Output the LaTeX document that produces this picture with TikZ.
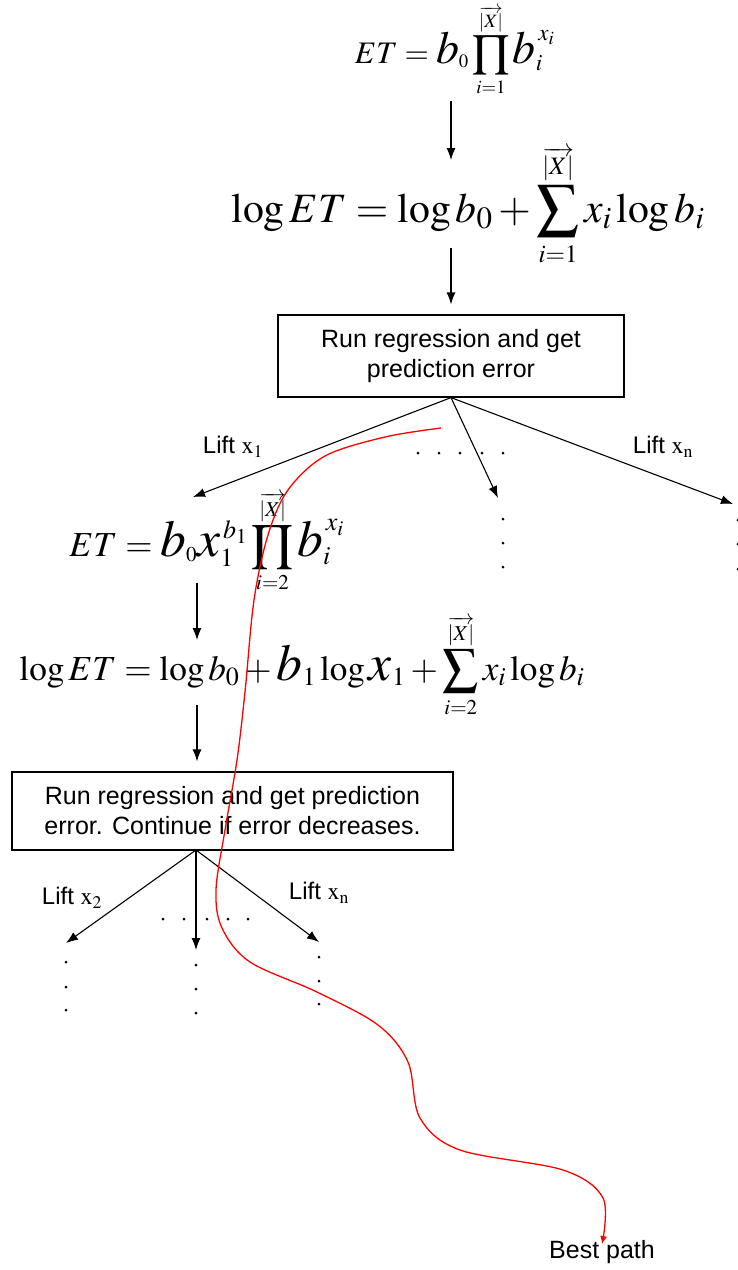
\documentclass[tikz,border=0pt]{standalone}
\usepackage{amsmath}
\usepackage{mathptmx}
\usepackage{fontspec}
\newfontfamily\sansf{Liberation Sans}
\usepackage{graphicx}
\usetikzlibrary{arrows.meta}
\newcommand\BL[1]{\mbox{\fontsize{44}{44}\selectfont$#1$}}
\newcommand\lm[1]{\scriptscriptstyle #1}
\newcommand\vX{\scriptscriptstyle\overrightarrow{|X|}\rule[-3pt]{0pt}{3pt}}
\begin{document}
\begin{tikzpicture}[x=1pt,y=-1pt,
  arr/.style={draw, line width=1.1pt, -{Latex[length=12pt,width=9pt]}},
  boxnode/.style={draw, line width=1.2pt, align=center, inner sep=0pt,
     font=\sansf\fontsize{25}{30}\selectfont},
  lbl/.style={font=\sansf\fontsize{24}{28}\selectfont, inner sep=0pt},
  eqn/.style={inner sep=0pt, anchor=base},
  dotm/.style={circle, fill, inner sep=0pt, minimum size=3pt},
  redpath/.style={draw=red, line width=1.3pt, -{Latex[length=8pt,width=7pt]}}]
\useasboundingbox (0,0) rectangle (738,1270);
\fill[white] (0,0) rectangle (738,1270);

% equations
\node[eqn] (eq1) at (455,63) {\resizebox{200pt}{!}{\fontsize{30}{30}\selectfont
  $ET = \BL{b}_{\lm{0}}\displaystyle\prod_{\lm{i=1}}^{\vX}\BL{b}_{i}^{\,x_{\lm{i}}}$}};
\node[eqn] (eq2) at (468,222) {\resizebox{473pt}{!}{\fontsize{38}{38}\selectfont
  $\log ET = \log b_0 + \displaystyle\sum_{\lm{i=1}}^{\vX} x_i \log b_i$}};
\node[eqn] (eq3) at (207,556) {\resizebox{275pt}{!}{\fontsize{30}{30}\selectfont
  $ET = \BL{b}_{\lm{0}}\BL{x}_{1}^{\,b_{\lm{1}}}\displaystyle\prod_{\lm{i=2}}^{\vX}\BL{b}_{i}^{\,x_{\lm{i}}}$}};
\node[eqn] (eq4) at (302,680) {\resizebox{565pt}{!}{\fontsize{30}{30}\selectfont
  $\log ET = \log b_0 + \BL{b}_{1}\log \BL{x}_{1} + \displaystyle\sum_{\lm{i=2}}^{\vX} x_i \log b_i$}};

% boxes
\node[boxnode, minimum width=346pt, minimum height=82pt] (box1) at (451,356)
  {Run regression and get\\prediction error};
\node[boxnode, minimum width=441pt, minimum height=78pt] (box2) at (232.5,811)
  {Run regression and get prediction\\error. Continue if error decreases.};

\coordinate (spine) at (197,700);
\coordinate (b2s) at (196,850);

% vertical arrows
\draw[arr, shorten <=38pt, shorten >=62pt] (eq1.base -| box1.north) -- (eq2.base -| box1.north);
\draw[arr, shorten <=26pt, shorten >=10pt] (eq2.base -| box1.north) -- (box1.north);
\draw[arr, shorten <=27pt, shorten >=40pt] (eq3.base -| spine) -- (eq4.base -| spine);
\draw[arr, shorten <=25pt, shorten >=10pt] (eq4.base -| spine) -- (box2.north -| spine);

% first branching
\coordinate (t1) at (193,497);
\coordinate (t2) at (498,498);
\coordinate (t3) at (733,504);
\draw[arr] (box1.south) -- (t1);
\draw[arr] (box1.south) -- (t2);
\draw[arr] (box1.south) -- (t3);
\node[lbl] (l1) at (233,447) {Lift $\mathrm{x}_1$};
\node[lbl] (l2) at (663,447) {Lift $\mathrm{x}_\mathrm{n}$};
\foreach \x/\n in {418/a,439/b,460/c,482/d,503/e} \node[dotm] (r\n) at (\x,453) {};
\foreach \y/\n in {519/a,543/b,567/c} \node[dotm] (v\n) at (503,\y) {};
\foreach \y/\n in {520/a,544/b,569/c} \node[dotm] (w\n) at (738,\y) {};

% second branching
\coordinate (s1) at (66,943);
\coordinate (s2) at (196,950);
\coordinate (s3) at (319,942);
\draw[arr] (b2s) -- (s1);
\draw[arr] (b2s) -- (s2);
\draw[arr] (b2s) -- (s3);
\node[lbl] (l3) at (72,898) {Lift $\mathrm{x}_2$};
\node[lbl] (l4) at (319,893) {Lift $\mathrm{x}_\mathrm{n}$};
\foreach \x/\n in {163/a,184/b,207/c,228/d,248/e} \node[dotm] (q\n) at (\x,919) {};
\foreach \y/\n in {962/a,987/b,1010/c} \node[dotm] (p\n) at (66,\y) {};
\foreach \y/\n in {965/a,989/b,1013/c} \node[dotm] (o\n) at (196,\y) {};
\foreach \y/\n in {957/a,981/b,1004/c} \node[dotm] (m\n) at (319,\y) {};

% best path
\node[lbl, font=\sansf\fontsize{25}{28}\selectfont, anchor=north] (best) at (602,1240) {Best path};
\coordinate (rstart) at (441,428);
\draw[redpath] plot[smooth, tension=0.55] coordinates {
  (rstart) (385,437) (325,456) (288,490) (268,535) (254,600) (245,692)
  (237,760) (225,830) (216,890) (222,928) (250,962) (317,992) (378,1025)
  (408,1062) (420,1118) (460,1150) (563,1170) (603,1198) ([yshift=-4pt]best.north)};
\end{tikzpicture}
\end{document}
